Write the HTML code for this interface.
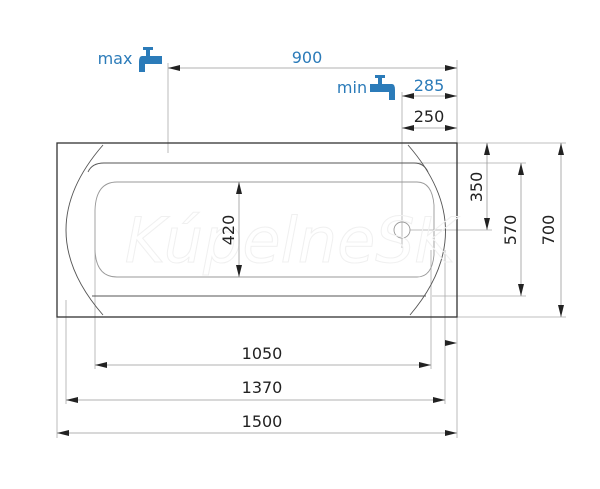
<!DOCTYPE html>
<html><head><meta charset="utf-8"><style>
html,body{margin:0;padding:0;background:#fff;width:600px;height:489px;overflow:hidden}
svg{display:block}
text{font-family:"DejaVu Sans","Liberation Sans",sans-serif;}
</style></head><body>
<svg width="600" height="489" viewBox="0 0 600 489" xmlns="http://www.w3.org/2000/svg">
<defs>
<marker id="a" viewBox="0 0 12 6" refX="12" refY="3" markerWidth="12" markerHeight="6" orient="auto-start-reverse" markerUnits="userSpaceOnUse"><path d="M0,0 L12,3 L0,6 z" fill="#222"/></marker>
</defs>
<g fill="none" stroke="#aaa" stroke-width="0.8">
<line x1="168" y1="63" x2="168" y2="153"/>
<line x1="457" y1="60" x2="457" y2="143"/>
<line x1="402" y1="92" x2="402" y2="248"/>
<line x1="457" y1="143" x2="566" y2="143"/>
<line x1="457" y1="317" x2="566" y2="317"/>
<line x1="402" y1="163" x2="526" y2="163"/>
<line x1="432" y1="296" x2="526" y2="296"/>
<line x1="410" y1="230" x2="492" y2="230"/>
<line x1="57" y1="317" x2="57" y2="438"/>
<line x1="66" y1="300" x2="66" y2="404"/>
<line x1="95" y1="250" x2="95" y2="369"/>
<line x1="431" y1="250" x2="431" y2="369"/>
<line x1="445" y1="250" x2="445" y2="404"/>
<line x1="457" y1="317" x2="457" y2="438"/>
</g>
<rect x="57" y="143" width="400" height="174" fill="none" stroke="#333" stroke-width="1.3"/>
<g fill="none" stroke="#555" stroke-width="0.9">
<path d="M103,145 Q29,230 103,315"/>
<path d="M408,145 Q482,230 410,315"/>
<path d="M88,172 Q92,163 104,163 L414,163 Q424,163 428,172"/>
<path d="M92,296 L426,296"/>
</g>
<g fill="none" stroke="#999" stroke-width="0.9">
<path d="M117,182 L417,182 Q432,182 434,205 L434,255 Q432,277 417,277 L117,277 Q96,277 95,250 L95,210 Q96,182 117,182 z"/>
<circle cx="402" cy="230" r="8"/>
</g>
<text x="290" y="262" font-size="62" font-style="italic" fill="none" stroke="#f0f0f0" stroke-width="1" text-anchor="middle" font-family="Liberation Sans">KúpelneSK</text>
<g stroke="#999" stroke-width="0.8" marker-start="url(#a)" marker-end="url(#a)">
<line x1="168" y1="68" x2="457" y2="68"/>
<line x1="402" y1="96" x2="457" y2="96"/>
<line x1="402" y1="128" x2="457" y2="128"/>
<line x1="239" y1="182" x2="239" y2="277"/>
<line x1="487" y1="143" x2="487" y2="230"/>
<line x1="521" y1="163" x2="521" y2="296"/>
<line x1="561" y1="143" x2="561" y2="317"/>
<line x1="95" y1="365" x2="431" y2="365"/>
<line x1="66" y1="400" x2="445" y2="400"/>
<line x1="57" y1="433" x2="457" y2="433"/>
</g>
<polygon points="445,340 457,343 445,346" fill="#222"/>
<g font-size="16" fill="#222" text-anchor="middle">
<text x="307" y="63" fill="#2b7bb9">900</text>
<text x="429" y="91" fill="#2b7bb9">285</text>
<text x="429" y="122">250</text>
<text x="262" y="359">1050</text>
<text x="262" y="393">1370</text>
<text x="262" y="427">1500</text>
<text transform="translate(234,230) rotate(-90)">420</text>
<text transform="translate(482,187) rotate(-90)">350</text>
<text transform="translate(516,230) rotate(-90)">570</text>
<text transform="translate(554,230) rotate(-90)">700</text>
<text x="115" y="64" fill="#2b7bb9">max</text>
<text x="352" y="93" fill="#2b7bb9">min</text>
</g>
<g fill="#2b7bb9">
<!-- max tap: spout at left -->
<rect x="143" y="47" width="10" height="3"/><rect x="146" y="49" width="4" height="7"/>
<path d="M142,56 h20 v8 h-17 v8 h-6 v-10 q0,-6 3,-6z"/>
<!-- min tap: spout at right -->
<rect x="375" y="75" width="10" height="3"/><rect x="378" y="77" width="4" height="7"/>
<path d="M370,84 h22 q3,0 3,6 v10 h-6 v-8 h-19z"/>
</g>
</svg>
</body></html>
